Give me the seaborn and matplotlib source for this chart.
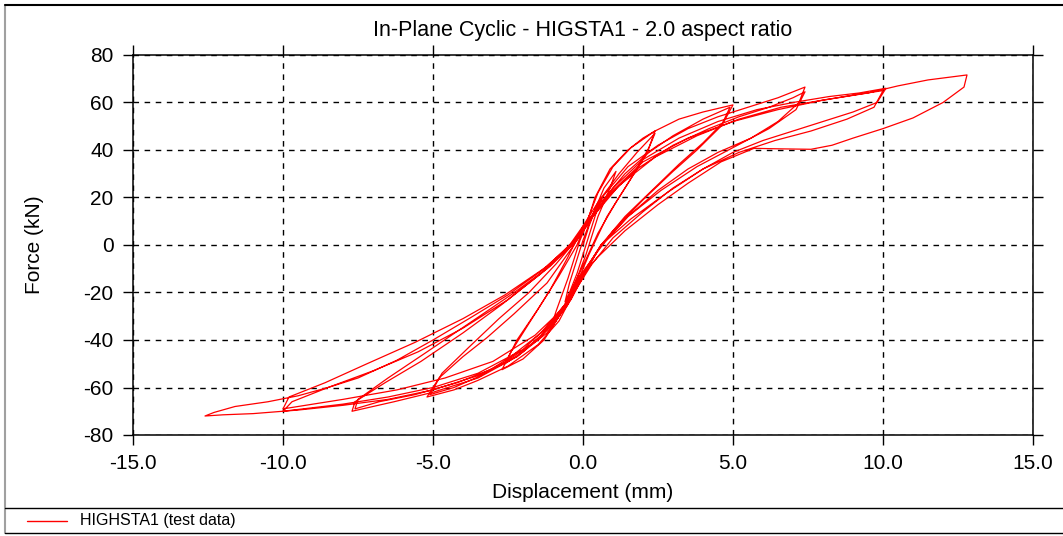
import matplotlib
matplotlib.use("Agg")
import matplotlib.pyplot as plt
from matplotlib.lines import Line2D
import seaborn as sns
import pandas as pd

# ---- data (displacement mm, force kN), cycle by cycle ----
disp_c1 = [0, 0.2, 0.45, 0.6, 0.45, 0.2, 0, -0.2, -0.45, -0.6, -0.45, -0.2, 0]
force_c1 = [0, 8, 16, 20, 14, 4, -4, -12, -20, -24, -16, -6, 2]

disp_c2 = [0, 0.3, 0.7, 1.1, 0.9, 0.5, 0.1, -0.2, -0.6, -1.1, -0.9, -0.5, -0.1, 0.1]
force_c2 = [2, 12, 24, 31, 24, 12, -4, -14, -26, -36, -28, -14, 2, 8]

disp_c3 = [0.1, 0.4, 0.9, 1.5, 2.0, 2.4, 2.2, 1.7, 1.1, 0.5, 0.1, -0.2, -0.7, -1.3,
           -2.0, -2.7, -2.4, -1.8, -1.1, -0.5, 0.0]
force_c3 = [8, 20, 32, 40, 45, 48, 41, 30, 18, 5, -6, -14, -28, -40,
            -48, -52.5, -45, -33, -19, -5, 8]

disp_c4 = [0.0, 0.5, 1.2, 1.8, 2.4, 2.1, 1.5, 0.8, 0.2, -0.1, -0.6, -1.4, -2.0, -2.6,
           -2.2, -1.5, -0.8, -0.2, 0.1]
force_c4 = [8, 18, 30, 39, 47, 38, 26, 12, -4, -13, -25, -38, -45, -50,
            -40, -27, -13, 0, 9]

disp_c5 = [0.1, 0.5, 1.0, 1.6, 2.4, 3.2, 4.0, 5.0, 4.7, 4.0, 3.2, 2.3, 1.4, 0.6, 0.1,
           -0.3, -0.8, -1.5, -2.5, -3.5, -4.3, -5.2, -4.8, -4.0, -3.2, -2.3, -1.2, -0.3, 0.1]
force_c5 = [9, 22, 33, 41, 48, 53, 56, 59, 52, 43, 34, 23, 12, 0, -11,
            -20, -32, -42, -51, -57, -61, -64, -56, -47, -39, -29, -16, 0, 9]

disp_c6 = [0.1, 0.6, 1.4, 2.2, 3.0, 4.0, 4.9, 4.6, 3.8, 3.0, 2.0, 1.0, 0.3, -0.1,
           -0.6, -1.4, -2.4, -3.4, -4.3, -5.1, -4.7, -3.8, -2.8, -1.8, -0.9, -0.1, 0.2]
force_c6 = [9, 18, 30, 39, 46, 53, 58, 50, 40, 31, 19, 6, -6, -13,
            -25, -37, -47, -55, -60, -63, -54, -43, -31, -20, -8, 4, 10]

disp_c7 = [0.2, 0.7, 1.5, 2.5, 3.5, 4.5, 5.5, 6.5, 7.4, 7.2, 6.5, 5.6, 4.5, 3.5, 2.5,
           1.5, 0.6, 0.1, -0.4, -1.2, -2.2, -3.5, -5.0, -6.3, -7.7, -7.6, -6.6, -5.4,
           -4.0, -2.7, -1.4, -0.4, 0.1]
force_c7 = [10, 21, 33, 42, 49, 54, 58, 62, 66.5, 60, 52, 45, 39, 32, 23,
            12, 0, -11, -23, -36, -47, -56, -62, -66, -70, -66, -58, -49,
            -37, -25, -12, 0, 9]

disp_c8 = [0.1, 0.8, 1.8, 3.0, 4.2, 5.2, 6.2, 7.0, 7.4, 7.1, 6.2, 5.0, 3.8, 2.6, 1.5,
           0.5, 0.0, -0.5, -1.5, -2.8, -4.2, -5.6, -6.8, -7.6, -7.5, -6.5, -5.2, -3.8,
           -2.4, -1.1, -0.2, 0.2]
force_c8 = [9, 20, 32, 42, 49, 54, 58, 62, 64.5, 57, 49, 41, 33, 23, 12,
            -2, -12, -25, -40, -51, -58, -63, -66, -69, -65, -56, -45, -33,
            -21, -9, 2, 10]

disp_c9 = [0.2, 1.0, 2.0, 3.2, 4.5, 5.8, 7.0, 8.2, 9.2, 10.1, 9.8, 9.0, 8.0, 7.0, 6.0,
           5.0, 4.0, 3.0, 2.0, 1.0, 0.3, -0.3, -1.0, -2.0, -3.5, -5.0, -6.5, -8.0,
           -10.0, -9.7, -8.5, -7.0, -5.5, -4.0, -2.5, -1.2, -0.2, 0.2]
force_c9 = [10, 24, 36, 45, 52, 57, 60, 62.5, 64, 66, 60, 56, 52, 48, 44,
            39, 32, 24, 14, 3, -8, -20, -32, -44, -54, -60, -64, -67,
            -70, -66, -60, -53, -45, -35, -23, -10, 3, 10]

disp_c10 = [0.2, 1.2, 2.4, 3.8, 5.2, 6.6, 8.0, 9.2, 10.0, 9.7, 8.8, 7.6, 6.4, 5.2, 4.0,
            2.8, 1.6, 0.6, 0.0, -0.6, -1.6, -3.0, -4.6, -6.2, -8.0, -10.0, -9.8, -8.6,
            -7.2, -5.6, -4.0, -2.6, -1.2, -0.2, 0.2]
force_c10 = [10, 25, 37, 46, 53, 58, 61, 63.5, 65, 58, 53, 48, 44, 39, 32,
             22, 11, 0, -12, -26, -38, -49, -56, -61, -65, -69, -64, -58,
             -50, -41, -31, -21, -9, 3, 9]

disp_c11 = [0.2, 1.0, 2.0, 3.5, 5.0, 6.5, 8.0, 9.5, 10.5, 11.5, 12.8, 12.7, 12.0, 11.0,
            10.0, 9.0, 8.3, 7.6, 6.5, 5.7, 4.6, 3.5, 2.5, 1.4, 0.5, 0.0, -0.5, -1.2,
            -2.2, -3.5, -5.0, -6.5, -8.0, -9.5, -11.0, -12.0, -12.6, -12.3, -11.6, -10.5,
            -9.5, -8.5, -7.5, -6.2, -5.0, -3.8, -2.5, -1.4, -0.5, 0.0]
force_c11 = [10, 23, 35, 45, 52, 57, 61, 64, 67, 69.5, 71.6, 66.5, 60, 53.5,
             49, 45, 42, 40.3, 40.5, 40.7, 35, 26, 17, 6, -5, -12, -25, -37,
             -47, -55, -61, -65, -67.5, -69.5, -71, -71.5, -72, -70.5, -68, -66,
             -63.5, -60, -56, -48.5, -40, -31, -21, -11, -1, 8]

cycles_disp = [disp_c1, disp_c2, disp_c3, disp_c4, disp_c5, disp_c6,
               disp_c7, disp_c8, disp_c9, disp_c10, disp_c11]
cycles_force = [force_c1, force_c2, force_c3, force_c4, force_c5, force_c6,
                force_c7, force_c8, force_c9, force_c10, force_c11]

x_ticks = [-15, -10, -5, 0, 5, 10, 15]
x_tick_labels = ["-15.0", "-10.0", "-5.0", "0.0", "5.0", "10.0", "15.0"]
y_ticks = [-80, -60, -40, -20, 0, 20, 40, 60, 80]
y_tick_labels = ["-80", "-60", "-40", "-20", "0", "20", "40", "60", "80"]

title = "In-Plane Cyclic - HIGSTA1 - 2.0 aspect ratio"
x_label = "Displacement (mm)"
y_label = "Force (kN)"
series_name = "HIGHSTA1 (test data)"

# ---- build table ----
disp_all, force_all = [], []
for d, f in zip(cycles_disp, cycles_force):
    disp_all += d
    force_all += f
df = pd.DataFrame({"disp": disp_all, "force": force_all})

# ---- style ----
sns.set_theme(style="white")
plt.rcParams["font.family"] = ["Liberation Sans", "DejaVu Sans"]
plt.rcParams["axes.unicode_minus"] = False

W, H = 1063, 536
fig = plt.figure(figsize=(W / 100, H / 100), dpi=100)
ax = fig.add_axes([133 / W, 1 - 435 / H, 900 / W, 380 / H])

sns.lineplot(data=df, x="disp", y="force", sort=False, estimator=None,
             color="#ff0000", linewidth=0.9, ax=ax, legend=False)

ax.set_xlim(-15, 15)
ax.set_ylim(-80, 80)
ax.set_xticks(x_ticks)
ax.set_xticklabels(x_tick_labels)
ax.set_yticks(y_ticks)
ax.set_yticklabels(y_tick_labels)
ax.grid(True, color="black", linestyle=(0, (4, 4)), linewidth=1.0)
for s in ax.spines.values():
    s.set_visible(True)
    s.set_color("black")
    s.set_linewidth(1.1)
ax.tick_params(axis="both", which="both", direction="out", length=7, width=1.0,
               color="black", labelsize=15, labelcolor="black", pad=7,
               top=True, right=True, bottom=True, left=True,
               labeltop=False, labelright=False)
ax.set_xlabel(x_label, fontsize=15, color="black", labelpad=7)
ax.set_ylabel(y_label, fontsize=15, color="black", labelpad=28)
ax.set_title(title, fontsize=15.5, color="black", pad=14)

# ---- figure frame and legend strip ----
fig.add_artist(Line2D([5 / W, 5 / W], [1 - 5 / H, 1 - 533 / H], color="#a0a0a0", lw=1.5))
fig.add_artist(Line2D([5 / W, 1], [1 - 5 / H, 1 - 5 / H], color="black", lw=1.5))
fig.add_artist(Line2D([5 / W, 1], [1 - 508 / H, 1 - 508 / H], color="black", lw=1.0))
fig.add_artist(Line2D([5 / W, 1], [1 - 533 / H, 1 - 533 / H], color="black", lw=1.0))
fig.add_artist(Line2D([27 / W, 67 / W], [1 - 521 / H, 1 - 521 / H], color="#ff0000", lw=1.0))
fig.text(80 / W, 1 - 521 / H, series_name, fontsize=11.5, color="black", va="center", ha="left")

fig.savefig("out.png", dpi=100)
